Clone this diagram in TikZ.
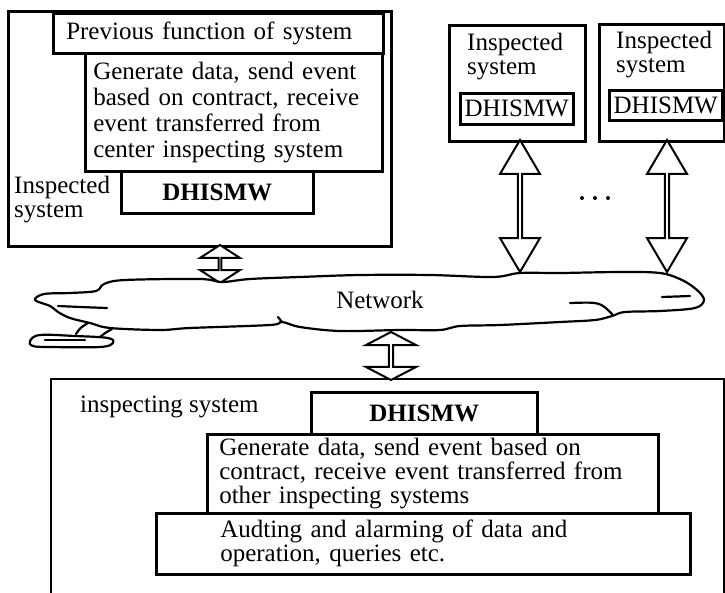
\documentclass[tikz,border=0pt]{standalone}
\usepackage{fontspec}
\setmainfont{Liberation Serif}
\usetikzlibrary{shapes.arrows,calc}
\newcommand\dgfs{\fontsize{25}{26}\selectfont}
\begin{document}
\begin{tikzpicture}[x=1pt,y=-1pt,
  box/.style={draw, line width=2.5pt, inner sep=0pt, anchor=north west, font=\dgfs},
  txtbox/.style={box, align=left, inner ysep=0pt},
  lbl/.style={inner sep=0pt, font=\dgfs, align=left},
  dblarr/.style={double arrow, draw, line width=2pt, fill=white, rotate=90, inner sep=0pt, double arrow head indent=0pt},
  cloudline/.style={line width=2.2pt, line join=round, line cap=round}
]
\useasboundingbox (0,0) rectangle (725,592);

% ---------- upper-left inspected system ----------
\node[box, minimum width=383pt, minimum height=235pt] (L) at (7,10) {};
\node[txtbox, minimum width=330pt, minimum height=40pt, inner xsep=13pt, text width=304pt] (Lprev) at (52,12) {Previous function of system};
\node[txtbox, minimum width=297pt, minimum height=118pt, inner xsep=8pt, text width=281pt] (Lgen) at (84,52)
  {Generate data, send event\\based on contract, receive\\event transferred from\\center inspecting system};
\node[box, minimum width=192pt, minimum height=42pt, font=\dgfs\bfseries] (Ldh) at (120,170) {DHISMW};
\node[lbl, anchor=west, font=\fontsize{25}{24}\selectfont] (Llbl) at (14,200) {Inspected\\system};

% ---------- upper-right inspected systems ----------
\node[box, minimum width=136pt, minimum height=116pt] (R1) at (448,24) {};
\node[lbl, anchor=north west, font=\fontsize{25}{24}\selectfont] (R1lbl) at (467,33) {Inspected\\system};
\node[box, minimum width=113pt, minimum height=31pt] (R1dh) at (459,92) {DHISMW};

\node[box, minimum width=125pt, minimum height=117pt] (R2) at (598,23) {};
\node[lbl, anchor=north west, font=\fontsize{25}{24}\selectfont] (R2lbl) at (616,31) {Inspected\\system};
\node[box, minimum width=113pt, minimum height=30pt] (R2dh) at (608,89) {DHISMW};

% dots
\foreach \dx in {582,595,608} \fill (\dx,198) circle (2pt);

% ---------- bottom inspecting system ----------
\draw[line width=2.5pt] (51,594) -- (51,379) -- (724,379) -- (724,594);
\node[lbl, anchor=west] (Blbl) at (80,407) {inspecting system};
\node[box, minimum width=226pt, minimum height=42pt, font=\dgfs\bfseries] (Bdh) at (310,391) {DHISMW};
\node[txtbox, minimum width=451pt, minimum height=79pt, inner xsep=12pt, text width=427pt, font=\fontsize{25}{24}\selectfont] (Bgen) at (206,433)
  {Generate data, send event based on\\contract, receive event transferred from\\other inspecting systems};
\node[txtbox, minimum width=534pt, minimum height=61pt, inner xsep=64pt, text width=406pt, font=\fontsize{25}{24}\selectfont] (Baud) at (155,512)
  {Audting and alarming of data and\\operation, queries etc.};

% ---------- double arrows (connectors) ----------
\node[dblarr, minimum height=38pt, minimum width=40pt, double arrow head extend=14pt, double arrow tip angle=114] (A1) at (220,264) {};
\node[dblarr, minimum height=132pt, minimum width=40pt, double arrow head extend=8.5pt, double arrow tip angle=61] (A2) at (520,206) {};
\node[dblarr, minimum height=132pt, minimum width=40pt, double arrow head extend=8.5pt, double arrow tip angle=61] (A3) at (667,206) {};
\node[dblarr, minimum height=48pt, minimum width=50pt, double arrow head extend=11pt, double arrow tip angle=125] (A4) at (391,356) {};

% ---------- network cloud ----------
\draw[cloudline, fill=white] plot[smooth cycle, tension=0.55] coordinates {
  (35,300) (44,294) (70,293) (96,291) (104,284) (125,280) (200,279) (222,282)
  (250,279) (300,277) (360,275) (430,275) (493,277) (520,273) (560,273)
  (620,272) (660,273) (682,280) (697,290) (704,300) (695,308) (660,311)
  (625,312) (612,316) (595,320) (560,322) (500,325) (460,326) (440,330)
  (400,330) (340,331) (300,327) (282,322) (270,325) (190,328) (160,330)
  (110,328) (90,323) (70,318) (58,312) (50,306) };
\draw[cloudline] (58,306) .. controls (80,307) .. (107,308);
\draw[cloudline] (570,303) .. controls (600,302) .. (612,314);
\draw[cloudline] (662,297) -- (690,296);
\draw[cloudline] (282,322) -- (278,317);
% tail
\draw[cloudline] (88,323) .. controls (80,328) .. (76,334);
\draw[cloudline] (112,329) .. controls (105,333) .. (100,337);
\draw[cloudline] plot[smooth cycle, tension=0.6] coordinates {
  (30,341) (40,335) (75,336) (108,338) (113,343) (100,347) (50,347) (33,346) };
\draw[cloudline] (45,340) -- (85,340);
\node[lbl] (net) at (380,300) {Network};

\end{tikzpicture}
\end{document}
